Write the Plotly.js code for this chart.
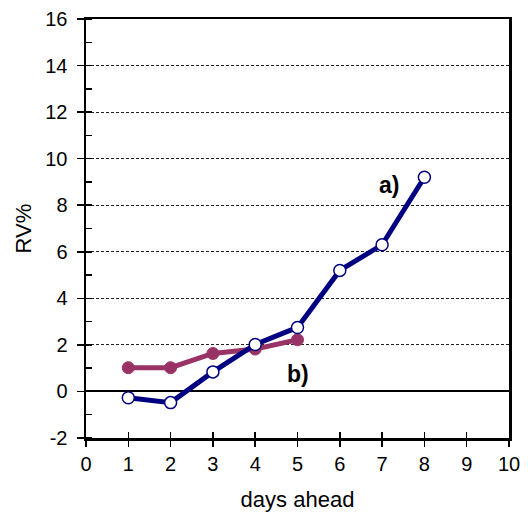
<!DOCTYPE html>
<html>
<head>
<meta charset="utf-8">
<script src="https://cdn.plot.ly/plotly-3.0.1.min.js"></script>
<style>html,body{margin:0;padding:0;background:#fff;}#chart{width:528px;height:517px;}</style>
</head>
<body>
<div id="chart"></div>
<script>
const daysA = [1, 2, 3, 4, 5, 6, 7, 8];
const rvA = [-0.27, -0.48, 0.84, 2.02, 2.75, 5.2, 6.3, 9.2];
const daysB = [1, 2, 3, 4, 5];
const rvB = [1.02, 1.02, 1.63, 1.82, 2.22];
const labelA = 'a)';
const labelB = 'b)';
const yTickVals = [-2, 0, 2, 4, 6, 8, 10, 12, 14, 16];
const yTickText = ['-2', '0', '2', '4', '6', '8', '10', '12', '14', '16'];

const traces = [
  {x: daysB, y: rvB, mode: 'lines+markers', type: 'scatter',
   line: {color: '#993366', width: 5},
   marker: {color: '#993366', size: 12, line: {color: '#993366', width: 1}}},
  {x: daysA, y: rvA, mode: 'lines+markers', type: 'scatter',
   line: {color: '#000080', width: 5},
   marker: {color: '#ffffff', size: 12, line: {color: '#000080', width: 1.5}}},
  {x: [0], y: [0], xaxis: 'x2', yaxis: 'y', mode: 'markers', marker: {opacity: 0}, hoverinfo: 'skip'}
];

const tickF = {family: 'Liberation Sans, Arial, sans-serif', size: 20, color: '#000'};
const titleF = {family: 'Liberation Sans, Arial, sans-serif', size: 22, color: '#000'};
const labF = {family: 'Liberation Sans, Arial, sans-serif', size: 23, color: '#000'};
const layout = {
  width: 528, height: 517,
  margin: {l: 86, r: 19, t: 19, b: 79},
  paper_bgcolor: '#fff', plot_bgcolor: '#fff',
  showlegend: false,
  font: tickF,
  xaxis: {range: [0, 10], dtick: 1, tick0: 0, showgrid: false, zeroline: false,
          showline: true, linecolor: '#000', linewidth: 2.5, mirror: true,
          ticks: 'outside', ticklen: 6, tickwidth: 1.5, tickcolor: '#000',
          tickfont: tickF,
          title: {text: 'days ahead', font: titleF, standoff: 18}},
  xaxis2: {range: [0, 10], dtick: 1, tick0: 0, overlaying: 'x', anchor: 'y', side: 'bottom',
           showgrid: false, zeroline: false, showline: false, showticklabels: false,
           ticks: 'inside', ticklen: 6, tickwidth: 1.5, tickcolor: '#000'},
  yaxis: {range: [-2, 16], tickmode: 'array', tickvals: yTickVals, ticktext: yTickText,
          showgrid: true, gridcolor: '#222', griddash: '3px,2px', gridwidth: 1,
          zeroline: true, zerolinecolor: '#000', zerolinewidth: 2,
          showline: true, linecolor: '#000', linewidth: 2.5, mirror: true,
          ticks: 'outside', ticklen: 7, tickwidth: 1.5, tickcolor: '#000',
          ticklabelstandoff: 5,
          minor: {dtick: 1, tick0: 0, ticks: 'inside', ticklen: 6, tickwidth: 1.5, tickcolor: '#000', showgrid: false},
          tickfont: tickF,
          title: {text: 'RV%', font: titleF, standoff: 8}},
  annotations: [
    {x: 7.16, y: 8.87, xref: 'x', yref: 'y', text: '<b>' + labelA + '</b>', showarrow: false, font: labF},
    {x: 5.0, y: 0.75, xref: 'x', yref: 'y', text: '<b>' + labelB + '</b>', showarrow: false, font: labF}
  ]
};
Plotly.newPlot('chart', traces, layout, {staticPlot: true, displayModeBar: false});
</script>
</body>
</html>
